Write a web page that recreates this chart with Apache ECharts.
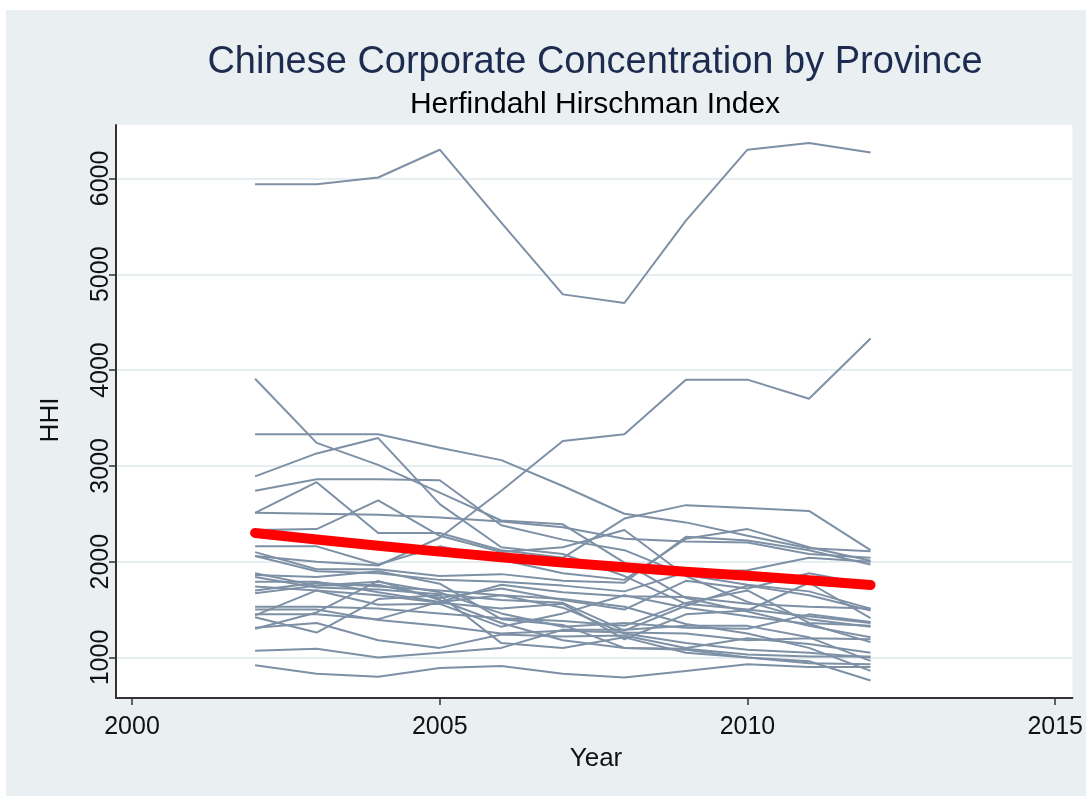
<!DOCTYPE html>
<html>
<head>
<meta charset="utf-8">
<title>Chinese Corporate Concentration by Province</title>
<script src="https://cdn.jsdelivr.net/npm/echarts@6/dist/echarts.min.js"></script>
<style>
  html, body { margin: 0; padding: 0; background: #ffffff; }
  #chart { position: absolute; left: 6px; top: 10px; width: 1080px; height: 786px; }
</style>
</head>
<body>
<div id="chart"></div>
<script>
// Survey years
const years = [2002, 2003, 2004, 2005, 2006, 2007, 2008, 2009, 2010, 2011, 2012];

// Province HHI series, one value per survey year
const hhiA = [5940, 5940, 6010, 6300, 5540, 4790, 4700, 5560, 6300, 6370, 6270];
const hhiB = [2060, 2000, 1960, 2250, 2740, 3260, 3330, 3900, 3900, 3700, 4330];
const hhiC = [3330, 3330, 3330, 3190, 3060, 2790, 2500, 2410, 2270, 2140, 2110];
const hhiD = [3910, 3240, 3010, 2720, 2430, 2390, 1990, 1620, 1480, 1330, 1210];
const hhiE = [2890, 3130, 3290, 2600, 2150, 2080, 1850, 1560, 1500, 1430, 1360];
const hhiF = [2740, 2860, 2860, 2850, 2380, 2230, 2120, 1860, 1760, 1690, 1510];
const hhiG = [2510, 2830, 2300, 2300, 2120, 2040, 2450, 2590, 2560, 2530, 2120];
const hhiH = [2510, 2500, 2490, 2460, 2420, 2360, 2240, 2210, 2200, 2080, 2040];
const hhiI = [2330, 2340, 2640, 2270, 2100, 2150, 2330, 1850, 1580, 1400, 1320];
const hhiJ = [2160, 2160, 1970, 2160, 2020, 1880, 1810, 2240, 2340, 2150, 2010];
const hhiK = [2100, 1920, 1920, 1850, 1870, 1800, 1780, 2260, 2220, 2120, 1970];
const hhiL = [2060, 1900, 1880, 1810, 1790, 1750, 1690, 1890, 1910, 2040, 2000];
const hhiM = [1880, 1750, 1760, 1620, 1720, 1600, 1500, 1800, 1720, 1880, 1760];
const hhiN = [1840, 1730, 1710, 1660, 1600, 1570, 1280, 1540, 1750, 1650, 1490];
const hhiO = [1790, 1790, 1680, 1580, 1760, 1680, 1640, 1630, 1560, 1530, 1510];
const hhiP = [1740, 1700, 1650, 1570, 1510, 1560, 1190, 1450, 1490, 1780, 1410];
const hhiQ = [1670, 1750, 1790, 1680, 1460, 1320, 1360, 1310, 1300, 1450, 1370];
const hhiR = [1530, 1530, 1510, 1460, 1410, 1380, 1330, 1570, 1700, 1360, 1330];
const hhiS = [1500, 1500, 1390, 1330, 1250, 1280, 1260, 1250, 1180, 1200, 1190];
const hhiT = [1440, 1700, 1550, 1560, 1320, 1460, 1650, 1520, 1430, 1350, 1160];
const hhiU = [1420, 1260, 1610, 1650, 1150, 1100, 1210, 1050, 1000, 960, 760];
const hhiV = [1310, 1360, 1180, 1100, 1240, 1220, 1230, 1100, 1200, 1140, 1050];
const hhiW = [1300, 1470, 1800, 1600, 1360, 1180, 1100, 1090, 1030, 1010, 1010];
const hhiX = [1070, 1090, 1000, 1050, 1100, 1290, 1290, 1330, 1330, 1210, 965];
const hhiY = [920, 830, 800, 890, 910, 830, 790, 860, 930, 900, 900];
const hhiZ = [1860, 1840, 1900, 1770, 1400, 1340, 1100, 1080, 1000, 940, 930];
const hhiAA = [1700, 1780, 1740, 1700, 1650, 1610, 1530, 1350, 1250, 1100, 860];
const hhiAB = [1450, 1450, 1400, 1580, 1650, 1520, 1250, 1150, 1080, 1050, 1000];

// Fitted trend across provinces
const trendHHI = [2300, 2232, 2167, 2105, 2047, 1992, 1942, 1895, 1852, 1805, 1757];

// Axis tick values
const xTicks = [2000, 2005, 2010, 2015];
const yTicks = [1000, 2000, 3000, 4000, 5000, 6000];

const provinceSeries = [hhiA, hhiB, hhiC, hhiD, hhiE, hhiF, hhiG, hhiH, hhiI, hhiJ,
  hhiK, hhiL, hhiM, hhiN, hhiO, hhiP, hhiQ, hhiR, hhiS, hhiT, hhiU, hhiV, hhiW,
  hhiX, hhiY, hhiZ, hhiAA, hhiAB];

const pair = vals => years.map((y, i) => [y, vals[i]]);

const FONT = '"Liberation Sans", Arial, Helvetica, sans-serif';
const GRAY = '#7d90a5';
const plain = v => String(Math.round(v));

const series = provinceSeries.map(vals => ({
  type: 'line',
  data: pair(vals),
  symbol: 'none',
  silent: true,
  lineStyle: { color: GRAY, width: 2 },
  z: 2
}));
series.push({
  type: 'line',
  data: pair(trendHHI),
  symbol: 'none',
  silent: true,
  lineStyle: { color: '#ff0000', width: 10, cap: 'round', join: 'round' },
  z: 5
});

const chart = echarts.init(document.getElementById('chart'), null, { renderer: 'canvas' });
chart.setOption({
  animation: false,
  backgroundColor: '#eaf0f2',
  grid: {
    left: 110, right: 10, top: 115, bottom: 98,
    show: true, backgroundColor: '#ffffff', borderWidth: 0
  },
  xAxis: {
    type: 'value',
    min: 1999.74, max: 2015.28,
    axisLine: { show: true, onZero: false, lineStyle: { color: '#333333', width: 2 } },
    axisTick: { show: true, customValues: xTicks, length: 7, lineStyle: { color: '#333333', width: 1.5 } },
    axisLabel: { customValues: xTicks, formatter: plain, color: '#111111', fontFamily: FONT, fontSize: 25, margin: 17 },
    splitLine: { show: false }
  },
  yAxis: {
    type: 'value',
    min: 577, max: 6558,
    axisLine: { show: true, onZero: false, lineStyle: { color: '#333333', width: 2 } },
    axisTick: { show: true, customValues: yTicks, length: 7, lineStyle: { color: '#333333', width: 1.5 } },
    axisLabel: { customValues: yTicks, formatter: plain, color: '#111111', fontFamily: FONT, fontSize: 25, rotate: 90, margin: 2 },
    splitLine: { show: true, lineStyle: { color: '#e6eef1', width: 2 } }
  },
  graphic: [
    { type: 'text', x: 589, y: 53, style: { text: 'Chinese Corporate Concentration by Province', fill: '#1c2b4f', font: '38px ' + FONT, textAlign: 'center', textVerticalAlign: 'middle' } },
    { type: 'text', x: 589, y: 95, style: { text: 'Herfindahl Hirschman Index', fill: '#000000', font: '30px ' + FONT, textAlign: 'center', textVerticalAlign: 'middle' } },
    { type: 'text', x: 590, y: 749, style: { text: 'Year', fill: '#111111', font: '26px ' + FONT, textAlign: 'center', textVerticalAlign: 'middle' } },
    { type: 'text', x: 45, y: 410, rotation: Math.PI / 2, style: { text: 'HHI', fill: '#111111', font: '26px ' + FONT, textAlign: 'center', textVerticalAlign: 'middle' } }
  ],
  series: series
});
</script>
</body>
</html>
